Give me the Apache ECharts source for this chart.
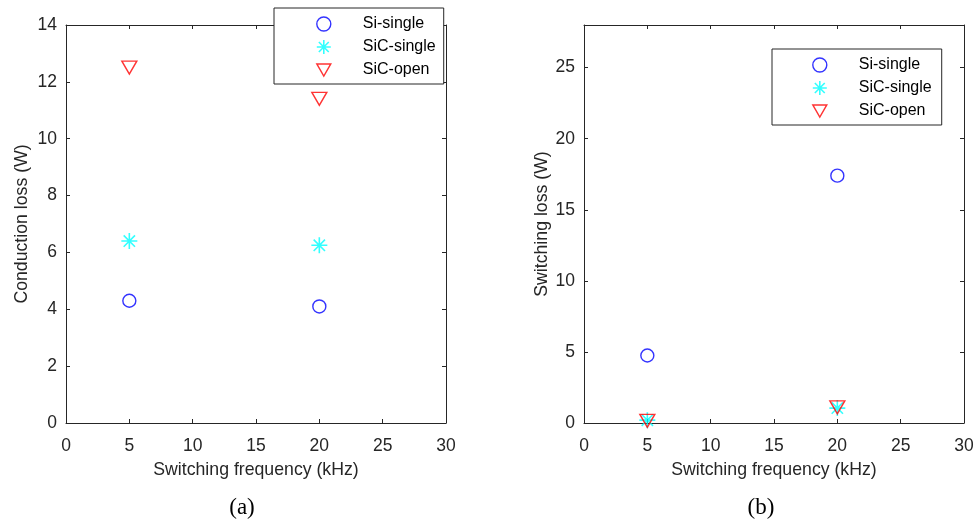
<!DOCTYPE html>
<html>
<head>
<meta charset="utf-8">
<style>
  html, body { margin: 0; padding: 0; background: #ffffff; }
  #chart { width: 977px; height: 527px; }
</style>
<script src="https://cdn.jsdelivr.net/npm/echarts@6/dist/echarts.min.js"></script>
</head>
<body>
<div id="chart"></div>
<script>
// Switching frequencies (kHz) at which the devices were evaluated
const freqs = [5, 20];

// Conduction loss (W), panel (a)
const condSiSingle  = [4.3, 4.1];
const condSiCSingle = [6.4, 6.25];
const condSiCOpen   = [12.5, 11.4];

// Switching loss (W), panel (b)
const swSiSingle  = [4.75, 17.4];
const swSiCSingle = [0.2, 1.05];
const swSiCOpen   = [0.15, 1.1];

const seriesNames = ['Si-single', 'SiC-single', 'SiC-open'];
const captions = ['(a)', '(b)'];

const AXIS = '#262626';
const FONT = '"Liberation Sans", Arial, Helvetica, sans-serif';

// Marker shapes: open circle, asterisk, downward triangle
const STAR = 'path://M0,-1L0,1M-1,0L1,0M-0.7071,-0.7071L0.7071,0.7071M-0.7071,0.7071L0.7071,-0.7071';
const TRI_DOWN = 'path://M0,0L15,0L7.5,13Z';
const markers = [
  { symbol: 'circle', size: 13, color: '#0000ff', width: 1.4 },
  { symbol: STAR, size: 16, color: '#00ffff', width: 1.6 },
  { symbol: TRI_DOWN, size: [15, 13], color: '#ff0000', width: 1.4 }
];

function pairs(ys) { return freqs.map((f, i) => [f, ys[i]]); }

function xAxes(gridIndex) {
  const common = {
    type: 'value', gridIndex, min: 0, max: 30, interval: 5,
    splitLine: { show: false },
    axisLine: { show: true, onZero: false, lineStyle: { color: AXIS, width: 1 } },
    axisTick: { show: true, inside: true, length: 4, lineStyle: { color: AXIS } }
  };
  return [
    Object.assign({}, common, {
      position: 'bottom',
      name: 'Switching frequency (kHz)', nameLocation: 'middle', nameGap: 38,
      nameTextStyle: { color: AXIS, fontSize: 17.7, fontFamily: FONT },
      axisLabel: { color: AXIS, fontSize: 17.5, fontFamily: FONT, margin: 14 }
    }),
    Object.assign({}, common, { position: 'top', axisLabel: { show: false } })
  ];
}

function yAxes(gridIndex, max, interval, name, gap) {
  const common = {
    type: 'value', gridIndex, min: 0, max, interval,
    splitLine: { show: false },
    axisLine: { show: true, onZero: false, lineStyle: { color: AXIS, width: 1 } },
    axisTick: { show: true, inside: true, length: 4, lineStyle: { color: AXIS } }
  };
  return [
    Object.assign({}, common, {
      position: 'left',
      name, nameLocation: 'middle', nameGap: gap,
      nameTextStyle: { color: AXIS, fontSize: 17.7, fontFamily: FONT },
      axisLabel: { color: AXIS, fontSize: 17.5, fontFamily: FONT, margin: 9, showMaxLabel: max % interval === 0 }
    }),
    Object.assign({}, common, { position: 'right', axisLabel: { show: false } })
  ];
}

function scatter(name, idx, axisIndex, ys) {
  const m = markers[idx];
  return {
    type: 'scatter', name,
    xAxisIndex: axisIndex, yAxisIndex: axisIndex,
    data: pairs(ys),
    symbol: m.symbol, symbolSize: m.size,
    itemStyle: { color: 'rgba(0,0,0,0)', borderColor: m.color, borderWidth: m.width },
    emphasis: { disabled: true },
    z: 3 + idx
  };
}

function legend(left, top, padLeft, padRight) {
  return {
    orient: 'vertical', left, top,
    padding: [8, padRight, 6, padLeft],
    itemWidth: 14, itemHeight: 14, itemGap: 7,
    backgroundColor: '#ffffff',
    borderColor: AXIS, borderWidth: 1, borderRadius: 0,
    selectedMode: false,
    textStyle: { color: '#000000', fontSize: 16, fontFamily: FONT, padding: [0, 0, 0, 27] },
    data: seriesNames.map((n, i) => ({
      name: n,
      icon: markers[i].symbol,
      itemStyle: { color: 'rgba(0,0,0,0)', borderColor: markers[i].color, borderWidth: markers[i].width }
    })),
    z: 10
  };
}

const chart = echarts.init(document.getElementById('chart'), null, { renderer: 'canvas' });

chart.setOption({
  backgroundColor: '#ffffff',
  animation: false,
  tooltip: { show: false },
  grid: [
    { left: 66, top: 25, width: 380, height: 398, containLabel: false },
    { left: 584, top: 25, width: 380, height: 398, containLabel: false }
  ],
  xAxis: xAxes(0).concat(xAxes(1)),
  yAxis: yAxes(0, 14, 2, 'Conduction loss (W)', 35).concat(yAxes(1, 28, 5, 'Switching loss (W)', 33)),
  legend: [legend(274, 8, 42, 8), legend(772, 49, 40, 10)],
  series: [
    scatter(seriesNames[0], 0, 0, condSiSingle),
    scatter(seriesNames[1], 1, 0, condSiCSingle),
    scatter(seriesNames[2], 2, 0, condSiCOpen),
    scatter(seriesNames[0], 0, 2, swSiSingle),
    scatter(seriesNames[1], 1, 2, swSiCSingle),
    scatter(seriesNames[2], 2, 2, swSiCOpen)
  ],
  graphic: [
    { type: 'text', x: 242, y: 508, style: { text: captions[0], fill: '#000000', font: '23px "Liberation Serif", "DejaVu Serif", serif', align: 'center', verticalAlign: 'middle' } },
    { type: 'text', x: 761, y: 508, style: { text: captions[1], fill: '#000000', font: '23px "Liberation Serif", "DejaVu Serif", serif', align: 'center', verticalAlign: 'middle' } }
  ]
});
</script>
</body>
</html>
